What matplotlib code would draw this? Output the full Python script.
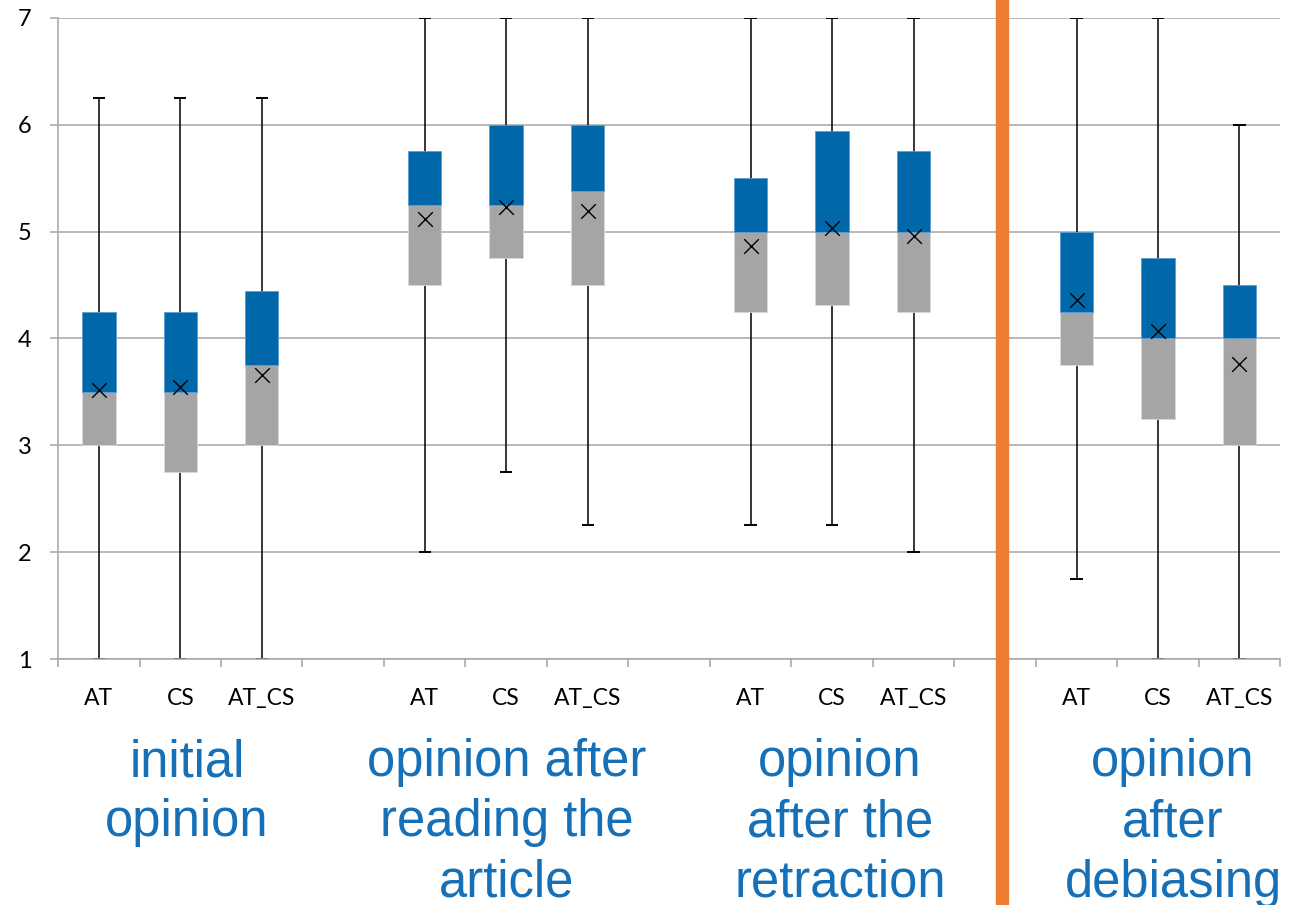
import matplotlib
matplotlib.use("Agg")
import matplotlib.pyplot as plt
import numpy as np
from matplotlib.patches import Rectangle

# one entry per box, in drawing order (slots 3, 7, 11 are left empty)
categories = ["AT", "CS", "AT_CS"] * 4
groups = ["initial\nopinion",
          "opinion after\nreading the\narticle",
          "opinion\nafter the\nretraction",
          "opinion\nafter\ndebiasing"]
mins = [1, 1, 1, 2, 2.75, 2.25, 2.25, 2.25, 2, 1.75, 1, 1]
q1s = [3, 2.75, 3, 4.5, 4.75, 4.5, 4.25, 4.31, 4.25, 3.75, 3.25, 3]
medians = [3.5, 3.5, 3.75, 5.25, 5.25, 5.38, 5, 5, 5, 4.25, 4, 4]
q3s = [4.25, 4.25, 4.44, 5.75, 6, 6, 5.5, 5.94, 5.75, 5, 4.75, 4.5]
maxs = [6.25, 6.25, 6.25, 7, 7, 7, 7, 7, 7, 7, 7, 6]
means = [3.52, 3.55, 3.66, 5.12, 5.23, 5.19, 4.87, 5.03, 4.96, 4.36, 4.07, 3.76]

BLUE = "#0068A8"
GREY = "#A5A5A5"
ORANGE = "#ED7D31"
TEXT_BLUE = "#1570B8"
GRID = "#A6A6A6"

# slot positions: 3 boxes then one gap, four times
pos = np.array([g * 4 + k for g in range(4) for k in range(3)], dtype=float)

fig = plt.figure(figsize=(12.96, 9.05), dpi=100)
ax = fig.add_axes([0.0448, 0.2718, 0.943, 0.7084])

lo = np.array(q1s); md = np.array(medians); hi = np.array(q3s)
ax.vlines(pos, mins, maxs, color="black", lw=1.1, zorder=2)
ax.hlines(maxs, pos - 0.075, pos + 0.075, color="black", lw=1.4, zorder=2)
ax.hlines(mins, pos - 0.075, pos + 0.075, color="black", lw=1.4, zorder=2)
ax.bar(pos, md - lo, bottom=lo, width=0.41, color=GREY,
       edgecolor="#D9D9D9", lw=0.6, zorder=3)
ax.bar(pos, hi - md, bottom=md, width=0.41, color=BLUE,
       edgecolor="#5B9BD5", lw=0.6, zorder=3)
ax.scatter(pos, means, marker="x", s=110, color="black", lw=1.0, zorder=4)

ax.set_xlim(-0.5, 14.5)
ax.set_ylim(1, 7)
ax.set_yticks(range(1, 8))
ax.yaxis.grid(True, color=GRID, lw=1.1)
ax.set_axisbelow(True)
for s in ("top", "right"):
    ax.spines[s].set_visible(False)
for s in ("left", "bottom"):
    ax.spines[s].set_color(GRID)
    ax.spines[s].set_linewidth(1.1)
ax.tick_params(axis="y", length=6, color=GRID, width=1.1, labelsize=17, pad=13)

# category labels at slot centres, tick marks at slot borders
ax.set_xticks(pos)
ax.set_xticklabels(categories)
ax.tick_params(axis="x", which="major", length=0, labelsize=16.5, pad=21)
ax.set_xticks(np.arange(-0.5, 15, 1), minor=True)
ax.tick_params(axis="x", which="minor", length=6, color=GRID, width=1.1)
for lab in ax.get_xticklabels() + ax.get_yticklabels():
    lab.set_fontfamily("Lato")

# group captions below the axis
for x_px, txt in zip([187, 507, 840, 1173], groups):
    fig.text(x_px / 1296, 1 - 738 / 905, txt, ha="center", va="top",
             fontsize=36.5, color=TEXT_BLUE, family="Liberation Sans",
             linespacing=1.3)

# orange separator across the whole slide
fig.add_artist(Rectangle((996 / 1296, 0), 12 / 1296, 1, transform=fig.transFigure,
                         color=ORANGE, zorder=5))

fig.savefig("out.png", dpi=100)
